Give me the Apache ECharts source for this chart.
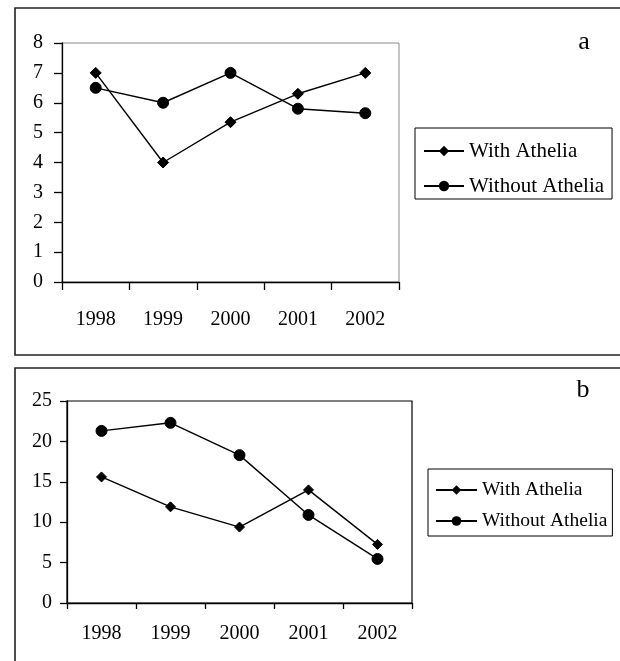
<!DOCTYPE html>
<html>
<head>
<meta charset="utf-8">
<script src="https://cdn.jsdelivr.net/npm/echarts@6/dist/echarts.min.js"></script>
<style>
html,body{margin:0;padding:0;background:#fff;}
#c{width:620px;height:661px;}
</style>
</head>
<body>
<div id="c"></div>
<script>
var years = ['1998', '1999', '2000', '2001', '2002'];
var seriesNames = ['With Athelia', 'Without Athelia'];
var withA = [7, 4, 5.35, 6.3, 7];
var withoutA = [6.5, 6, 7, 5.8, 5.65];
var withB = [15.6, 11.9, 9.4, 14, 7.25];
var withoutB = [21.3, 22.3, 18.3, 10.9, 5.45];
var panelLabels = ['a', 'b'];

var FONT = '"Liberation Serif", "Times New Roman", serif';
var chart = echarts.init(document.getElementById('c'), null, {renderer: 'canvas'});

function xAxis(gridIndex, margin, tickLen) {
  return {
    type: 'category', gridIndex: gridIndex, data: years, boundaryGap: true,
    axisLine: {lineStyle: {color: '#000', width: 1.3}},
    axisTick: {show: true, inside: false, length: tickLen, alignWithLabel: false, lineStyle: {color: '#000', width: 1.3}},
    axisLabel: {color: '#000', fontFamily: FONT, fontSize: 20, margin: margin},
    splitLine: {show: false}
  };
}
function yAxis(gridIndex, max, interval, margin, tickLen) {
  return {
    type: 'value', gridIndex: gridIndex, min: 0, max: max, interval: interval,
    axisLine: {show: true, lineStyle: {color: '#000', width: 1.3}},
    axisTick: {show: true, inside: false, length: tickLen, lineStyle: {color: '#000', width: 1.3}},
    axisLabel: {color: '#000', fontFamily: FONT, fontSize: 20, margin: margin},
    splitLine: {show: false}
  };
}
function line(name, data, idx, symbol, size) {
  return {
    name: name, type: 'line', xAxisIndex: idx, yAxisIndex: idx, data: data,
    symbol: symbol, symbolSize: size, showSymbol: true,
    lineStyle: {color: '#000', width: 1.4},
    itemStyle: {color: '#000', borderColor: '#000'},
    emphasis: {disabled: true}, animation: false
  };
}

var option = {
  animation: false,
  backgroundColor: '#fff',
  grid: [
    {left: 62, top: 43, width: 337, height: 239, show: true, borderColor: '#8a8a8a', borderWidth: 1, backgroundColor: 'transparent'},
    {left: 67, top: 401, width: 345, height: 202, show: true, borderColor: '#000', borderWidth: 1.2, backgroundColor: 'transparent'}
  ],
  xAxis: [xAxis(0, 28, 8), xAxis(1, 21, 6)],
  yAxis: [yAxis(0, 8, 1, 19, 8), yAxis(1, 25, 5, 15, 7)],
  legend: [
    {
      seriesIndex: [0, 1],
      data: seriesNames.map(function (n) { return {name: n}; }),
      orient: 'vertical', left: 415, top: 128,
      itemWidth: 40, itemHeight: 13, itemGap: 13,
      padding: [12, 8, 2, 8],
      borderColor: '#000', borderWidth: 1,
      textStyle: {color: '#000', fontFamily: FONT, fontSize: 21, lineHeight: 22},
      selectedMode: false
    },
    {
      data: seriesNames.map(function (n) { return {name: n}; }),
      orient: 'vertical', left: 428, top: 469,
      itemWidth: 41, itemHeight: 12, itemGap: 11,
      padding: [11, 5, 5, 7],
      borderColor: '#000', borderWidth: 1,
      textStyle: {color: '#000', fontFamily: FONT, fontSize: 19.5, lineHeight: 20},
      selectedMode: false
    }
  ],
  series: [
    line(seriesNames[0], withA, 0, 'diamond', 11),
    line(seriesNames[1], withoutA, 0, 'circle', 11),
    line(seriesNames[0], withB, 1, 'diamond', 10),
    line(seriesNames[1], withoutB, 1, 'circle', 11)
  ],
  graphic: [
    {type: 'polyline', silent: true, shape: {points: [[620, 8], [15, 8], [15, 355], [620, 355]]}, style: {stroke: '#222', lineWidth: 1.6, fill: null}},
    {type: 'polyline', silent: true, shape: {points: [[620, 368], [15, 368], [15, 661]]}, style: {stroke: '#222', lineWidth: 1.6, fill: null}},
    {type: 'text', silent: true, x: 584, y: 42, style: {text: panelLabels[0], font: '26px ' + FONT, fill: '#000', align: 'center', verticalAlign: 'middle'}},
    {type: 'text', silent: true, x: 583, y: 390, style: {text: panelLabels[1], font: '26px ' + FONT, fill: '#000', align: 'center', verticalAlign: 'middle'}}
  ]
};
chart.setOption(option);
</script>
</body>
</html>
